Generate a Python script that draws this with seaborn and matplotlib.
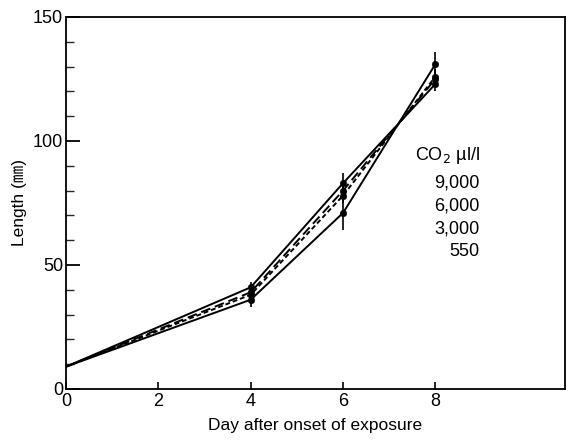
import matplotlib
matplotlib.use("Agg")
import matplotlib.pyplot as plt
import seaborn as sns
import pandas as pd
import numpy as np
from matplotlib.ticker import MultipleLocator

sns.set_theme(style="white")
plt.rcParams['font.family'] = ['Liberation Sans', 'DejaVu Sans', 'Noto Sans CJK JP']

days = [0, 4, 6, 8]
series_names = ["9,000", "6,000", "3,000", "550"]
len_9000 = [9, 41, 83, 123]
len_6000 = [9, 39, 80, 125]
len_3000 = [9, 38, 78, 126]
len_550 = [9, 36, 71, 131]
err_9000 = [0, 2, 4, 3]
err_6000 = [0, 2, 3, 3]
err_3000 = [0, 2, 3, 3]
err_550 = [0, 3, 7, 5]

values = [len_9000, len_6000, len_3000, len_550]
errors = [err_9000, err_6000, err_3000, err_550]
rows = []
for name, vals, errs in zip(series_names, values, errors):
    for d, v, e in zip(days, vals, errs):
        rows.append({"day": d, "length": v, "err": e, "co2": name})
df = pd.DataFrame(rows)

dashes = {"9,000": "", "6,000": (5, 2.5), "3,000": (2.5, 1.5), "550": ""}

fig = plt.figure(figsize=(5.71, 4.47), dpi=100)
ax = fig.add_axes([0.1156, 0.1298, 0.8734, 0.8322])

sns.lineplot(data=df, x="day", y="length", style="co2", dashes=dashes,
             color="black", linewidth=1.4, legend=False, ax=ax, sort=False)
dfp = df[df["day"] > 0]
ax.errorbar(dfp["day"], dfp["length"], yerr=dfp["err"], fmt="none",
            ecolor="black", elinewidth=1.2, capsize=0)
sns.scatterplot(data=dfp, x="day", y="length", color="black", s=22,
                edgecolor="black", legend=False, ax=ax, zorder=5)

ax.set_xlim(0, 10.8)
ax.set_ylim(0, 150)
ax.set_xticks([0, 2, 4, 6, 8])
ax.set_yticks([0, 50, 100, 150])
ax.yaxis.set_minor_locator(MultipleLocator(10))
ax.tick_params(axis="y", which="major", direction="in", length=10, width=1.3,
               labelsize=13, left=True, pad=2, colors="black")
ax.tick_params(axis="y", which="minor", direction="in", length=6, width=1.0, left=True)
ax.tick_params(axis="x", which="major", direction="in", length=5, width=1.2,
               labelsize=13, bottom=True, pad=3, colors="black")
for sp in ax.spines.values():
    sp.set_color("black")
    sp.set_linewidth(1.3)

ax.set_xlabel("Day after onset of exposure", fontsize=12.5, color="black", labelpad=6)
ax.set_ylabel("Length (㎜)", fontsize=12.5, color="black", labelpad=4)

tx = 8.96
ax.text(tx, 94, "CO$_2$ µl/l", ha="right", va="center", fontsize=13, color="black")
for i, name in enumerate(series_names):
    ax.text(tx, 83 - i * 9.2, name, ha="right", va="center", fontsize=13, color="black")

fig.savefig("out.png", dpi=100)
